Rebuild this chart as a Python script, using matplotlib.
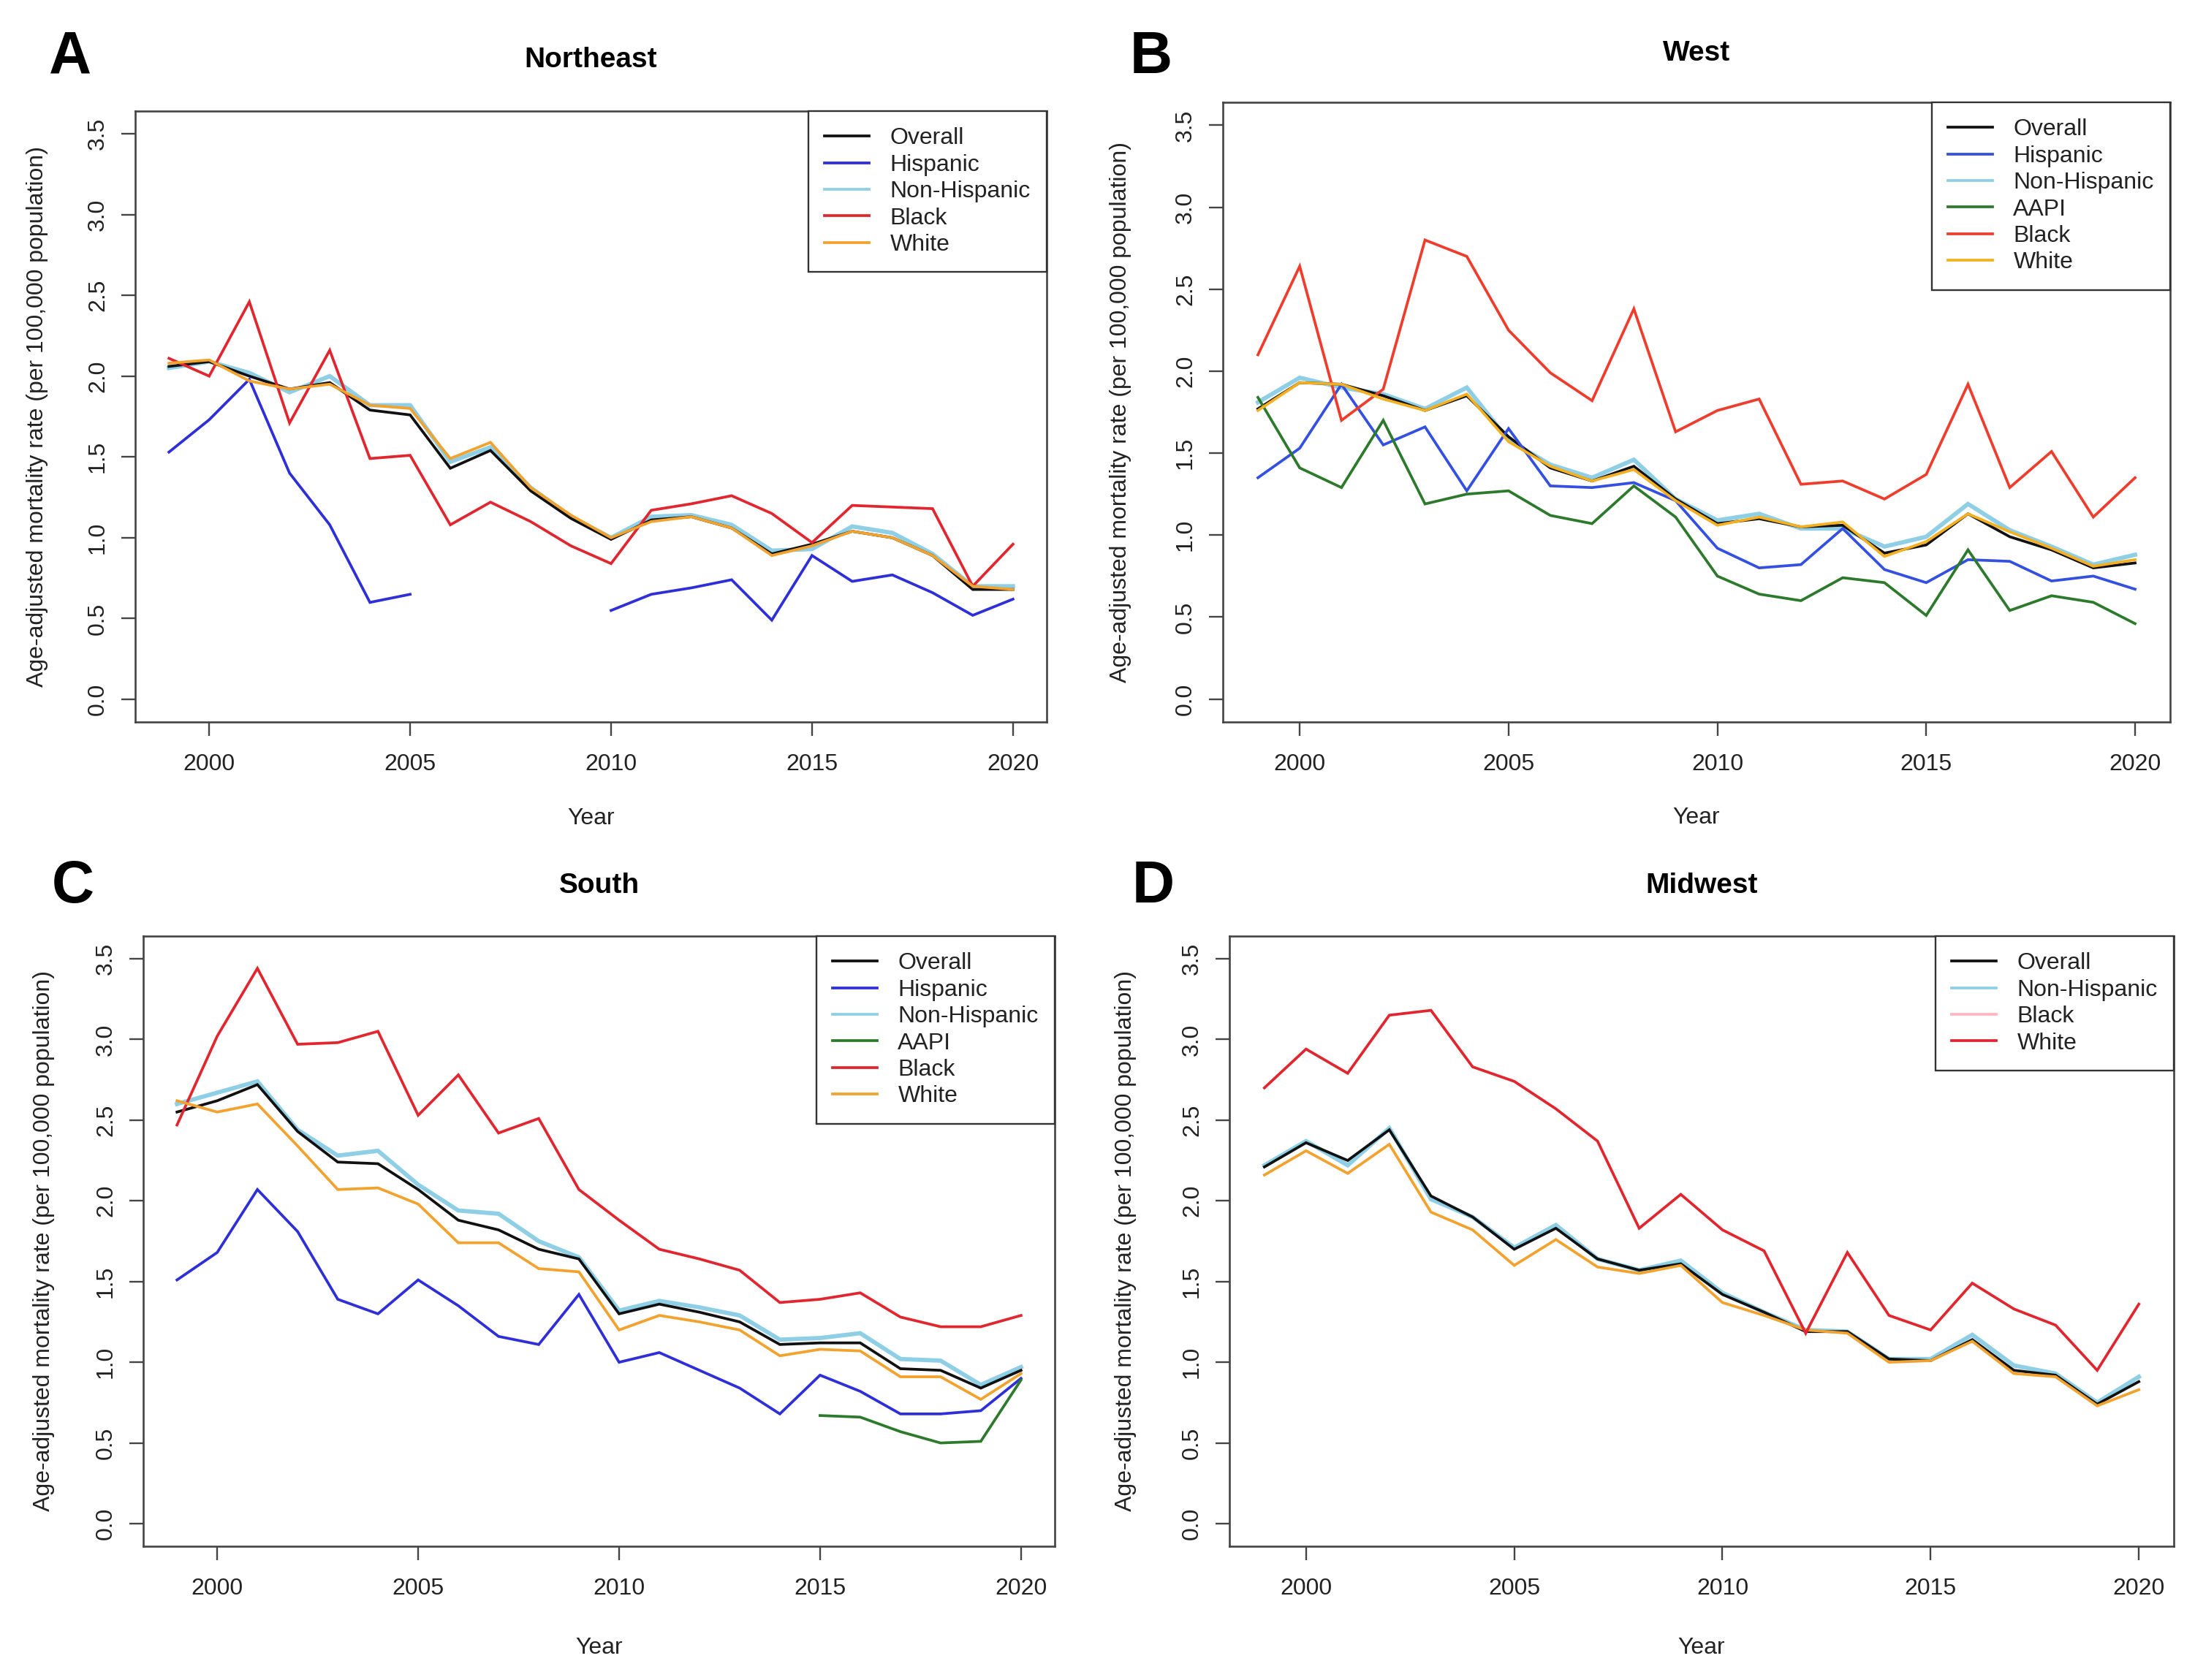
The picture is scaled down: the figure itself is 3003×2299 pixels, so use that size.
import numpy as np
import matplotlib
matplotlib.use("Agg")
import matplotlib.pyplot as plt
from matplotlib.lines import Line2D
from matplotlib.ticker import FormatStrFormatter

plt.rcParams['font.family'] = ['Liberation Sans', 'DejaVu Sans']

years = np.arange(1999, 2021)
nan = np.nan

# A: Northeast
ne_overall = [2.06, 2.09, 2.00, 1.92, 1.96, 1.79, 1.76, 1.43, 1.54, 1.29, 1.12, 0.99,
              1.11, 1.13, 1.06, 0.90, 0.96, 1.04, 1.00, 0.89, 0.68, 0.68]
ne_hispanic = [1.53, 1.73, 1.98, 1.40, 1.08, 0.60, 0.65, nan, nan, nan, nan, 0.55,
               0.65, 0.69, 0.74, 0.49, 0.89, 0.73, 0.77, 0.66, 0.52, 0.62]
ne_nonhisp = [2.05, 2.09, 2.02, 1.90, 2.00, 1.82, 1.82, 1.47, 1.56, 1.31, 1.13, 1.00,
              1.13, 1.14, 1.08, 0.92, 0.93, 1.07, 1.03, 0.90, 0.70, 0.70]
ne_black = [2.11, 2.00, 2.46, 1.71, 2.16, 1.49, 1.51, 1.08, 1.22, 1.10, 0.95, 0.84,
            1.17, 1.21, 1.26, 1.15, 0.97, 1.20, 1.19, 1.18, 0.70, 0.96]
ne_white = [2.08, 2.10, 1.97, 1.92, 1.95, 1.82, 1.80, 1.49, 1.59, 1.31, 1.14, 1.00,
            1.10, 1.13, 1.06, 0.89, 0.95, 1.04, 1.00, 0.89, 0.70, 0.68]

# B: West
w_overall = [1.77, 1.93, 1.92, 1.85, 1.76, 1.85, 1.60, 1.41, 1.33, 1.42, 1.22, 1.07,
             1.10, 1.05, 1.06, 0.89, 0.94, 1.13, 0.99, 0.91, 0.80, 0.83]
w_hispanic = [1.35, 1.53, 1.92, 1.55, 1.66, 1.27, 1.65, 1.30, 1.29, 1.32, 1.21, 0.92,
              0.80, 0.82, 1.04, 0.79, 0.71, 0.85, 0.84, 0.72, 0.75, 0.67]
w_nonhisp = [1.81, 1.96, 1.90, 1.86, 1.77, 1.90, 1.58, 1.43, 1.35, 1.46, 1.22, 1.09,
             1.13, 1.04, 1.04, 0.93, 0.99, 1.19, 1.03, 0.93, 0.82, 0.88]
w_aapi = [1.84, 1.41, 1.29, 1.70, 1.19, 1.25, 1.27, 1.12, 1.07, 1.30, 1.11, 0.75,
          0.64, 0.60, 0.74, 0.71, 0.51, 0.91, 0.54, 0.63, 0.59, 0.46]
w_black = [2.10, 2.64, 1.70, 1.89, 2.80, 2.70, 2.25, 1.99, 1.82, 2.38, 1.63, 1.76,
           1.83, 1.31, 1.33, 1.22, 1.37, 1.92, 1.29, 1.51, 1.11, 1.35]
w_white = [1.76, 1.93, 1.92, 1.83, 1.76, 1.86, 1.57, 1.42, 1.33, 1.40, 1.21, 1.06,
           1.11, 1.05, 1.08, 0.87, 0.96, 1.13, 1.02, 0.92, 0.81, 0.85]

# C: South
s_overall = [2.55, 2.62, 2.72, 2.43, 2.24, 2.23, 2.07, 1.88, 1.82, 1.70, 1.64, 1.30,
             1.36, 1.31, 1.25, 1.11, 1.12, 1.12, 0.96, 0.95, 0.84, 0.95]
s_hispanic = [1.51, 1.68, 2.07, 1.81, 1.39, 1.30, 1.51, 1.35, 1.16, 1.11, 1.42, 1.00,
              1.06, 0.95, 0.84, 0.68, 0.92, 0.82, 0.68, 0.68, 0.70, 0.90]
s_nonhisp = [2.60, 2.67, 2.74, 2.44, 2.28, 2.31, 2.10, 1.94, 1.92, 1.75, 1.65, 1.32,
             1.38, 1.34, 1.29, 1.14, 1.15, 1.18, 1.02, 1.01, 0.86, 0.97]
s_aapi = [nan, nan, nan, nan, nan, nan, nan, nan, nan, nan, nan, nan,
          nan, nan, nan, nan, 0.67, 0.66, 0.57, 0.50, 0.51, 0.89]
s_black = [2.47, 3.02, 3.44, 2.97, 2.98, 3.05, 2.53, 2.78, 2.42, 2.51, 2.07, 1.88,
           1.70, 1.64, 1.57, 1.37, 1.39, 1.43, 1.28, 1.22, 1.22, 1.29]
s_white = [2.62, 2.55, 2.60, 2.34, 2.07, 2.08, 1.98, 1.74, 1.74, 1.58, 1.56, 1.20,
           1.29, 1.25, 1.20, 1.04, 1.08, 1.07, 0.91, 0.91, 0.77, 0.93]

# D: Midwest
mw_overall = [2.21, 2.36, 2.25, 2.44, 2.03, 1.90, 1.70, 1.83, 1.64, 1.57, 1.61, 1.42,
              1.31, 1.19, 1.19, 1.02, 1.01, 1.14, 0.95, 0.92, 0.74, 0.88]
mw_nonhisp = [2.22, 2.37, 2.22, 2.45, 2.01, 1.90, 1.71, 1.85, 1.64, 1.57, 1.63, 1.43,
              1.31, 1.20, 1.19, 1.02, 1.02, 1.17, 0.98, 0.93, 0.75, 0.91]
mw_red = [2.70, 2.94, 2.79, 3.15, 3.18, 2.83, 2.74, 2.57, 2.37, 1.83, 2.04, 1.82,
          1.69, 1.18, 1.68, 1.29, 1.20, 1.49, 1.33, 1.23, 0.95, 1.36]
mw_orange = [2.16, 2.31, 2.17, 2.35, 1.93, 1.82, 1.60, 1.76, 1.59, 1.55, 1.60, 1.37,
             1.29, 1.20, 1.18, 1.00, 1.01, 1.13, 0.93, 0.91, 0.73, 0.83]

BLACK = '#111111'
BLUE = '#2f2fd8'
BLUE_W = '#3450e0'
LBLUE = '#8fcfe6'
GREEN = '#2d7a2d'
RED = '#e0262e'
RED_W = '#ee3d2d'
ORANGE = '#f2a22e'
ORANGE_W = '#f4b020'
PINK = '#ffb6c1'

W, H = 3003, 2299
fig = plt.figure(figsize=(W / 100, H / 100), dpi=100)
FRAME = '#444444'
TXT = '#222222'
LW = 2.7


def px_axes(x0, y0, x1, y1):
    return fig.add_axes([x0 / W, 1 - y1 / H, (x1 - x0) / W, (y1 - y0) / H])


def draw_panel(box, letter, letter_xy, title, title_off, xlab_off, ylab_off, lines, legend):
    ax = px_axes(*box)
    for vals, color, lw in lines:
        ax.plot(years, vals, color=color, lw=lw, solid_joinstyle='miter')
    ax.set_xlim(1998.16, 2020.84)
    ax.set_ylim(-0.14, 3.64)
    ax.set_xticks([2000, 2005, 2010, 2015, 2020])
    ax.set_yticks(np.arange(0, 3.51, 0.5))
    ax.yaxis.set_major_formatter(FormatStrFormatter('%.1f'))
    for sp in ax.spines.values():
        sp.set_linewidth(1.9)
        sp.set_color(FRAME)
    ax.tick_params(direction='out', length=14, width=1.7, color=FRAME,
                   labelsize=23, labelcolor=TXT)
    ax.tick_params(axis='x', pad=17)
    ax.tick_params(axis='y', pad=12, labelrotation=90)
    for lbl in ax.get_yticklabels():
        lbl.set_va('center')
    ax.set_xlabel('Year', fontsize=23, color=TXT, va='baseline')
    ax.xaxis.set_label_coords(0.5, xlab_off)
    ax.set_ylabel('Age-adjusted mortality rate (per 100,000 population)',
                  fontsize=23, color=TXT, va='center')
    ax.yaxis.set_label_coords(ylab_off, 0.5)
    ax.text(0.5, 1 + title_off, title, transform=ax.transAxes, ha='center',
            va='baseline', fontsize=28, fontweight='bold')
    fig.text(letter_xy[0] / W, 1 - letter_xy[1] / H, letter, ha='center',
             va='baseline', fontsize=58, fontweight='bold')
    handles = [Line2D([], [], color=c, lw=LW) for _, c in legend]
    leg = ax.legend(handles, [l for l, _ in legend], loc='upper right',
                    bbox_to_anchor=(1, 1), borderaxespad=0, fontsize=23,
                    fancybox=False, framealpha=1, edgecolor='#333333',
                    handlelength=1.9, handletextpad=0.9, labelspacing=0.2,
                    borderpad=0.7)
    leg.get_frame().set_linewidth(1.7)
    for t in leg.get_texts():
        t.set_color(TXT)
    return ax


draw_panel((185, 152, 1432, 988), 'A', (96, 100), 'Northeast', 0.0718, -0.167, -0.1075,
           [(ne_nonhisp, LBLUE, 4.2), (ne_overall, BLACK, LW), (ne_hispanic, BLUE, LW),
            (ne_black, RED, LW), (ne_white, ORANGE, LW)],
           [('Overall', BLACK), ('Hispanic', BLUE), ('Non-Hispanic', LBLUE),
            ('Black', RED), ('White', ORANGE)])

draw_panel((1673, 140, 2969, 988), 'B', (1575, 100), 'West', 0.0672, -0.164, -0.108,
           [(w_nonhisp, LBLUE, 4.2), (w_overall, BLACK, LW), (w_hispanic, BLUE_W, LW),
            (w_aapi, GREEN, LW), (w_black, RED_W, LW), (w_white, ORANGE_W, LW)],
           [('Overall', BLACK), ('Hispanic', BLUE_W), ('Non-Hispanic', LBLUE),
            ('AAPI', GREEN), ('Black', RED_W), ('White', ORANGE_W)])

draw_panel((196, 1281, 1443, 2116), 'C', (100, 1235), 'South', 0.0707, -0.176, -0.109,
           [(s_nonhisp, LBLUE, 4.2), (s_overall, BLACK, LW), (s_hispanic, BLUE, LW),
            (s_aapi, GREEN, LW), (s_black, RED, LW), (s_white, ORANGE, LW)],
           [('Overall', BLACK), ('Hispanic', BLUE), ('Non-Hispanic', LBLUE),
            ('AAPI', GREEN), ('Black', RED), ('White', ORANGE)])

draw_panel((1682, 1281, 2974, 2116), 'D', (1578, 1235), 'Midwest', 0.0707, -0.176, -0.110,
           [(mw_nonhisp, LBLUE, 4.2), (mw_overall, BLACK, LW), (mw_orange, ORANGE, LW),
            (mw_red, RED, LW)],
           [('Overall', BLACK), ('Non-Hispanic', LBLUE), ('Black', PINK), ('White', RED)])

fig.savefig('out.png', dpi=100, facecolor='white')
